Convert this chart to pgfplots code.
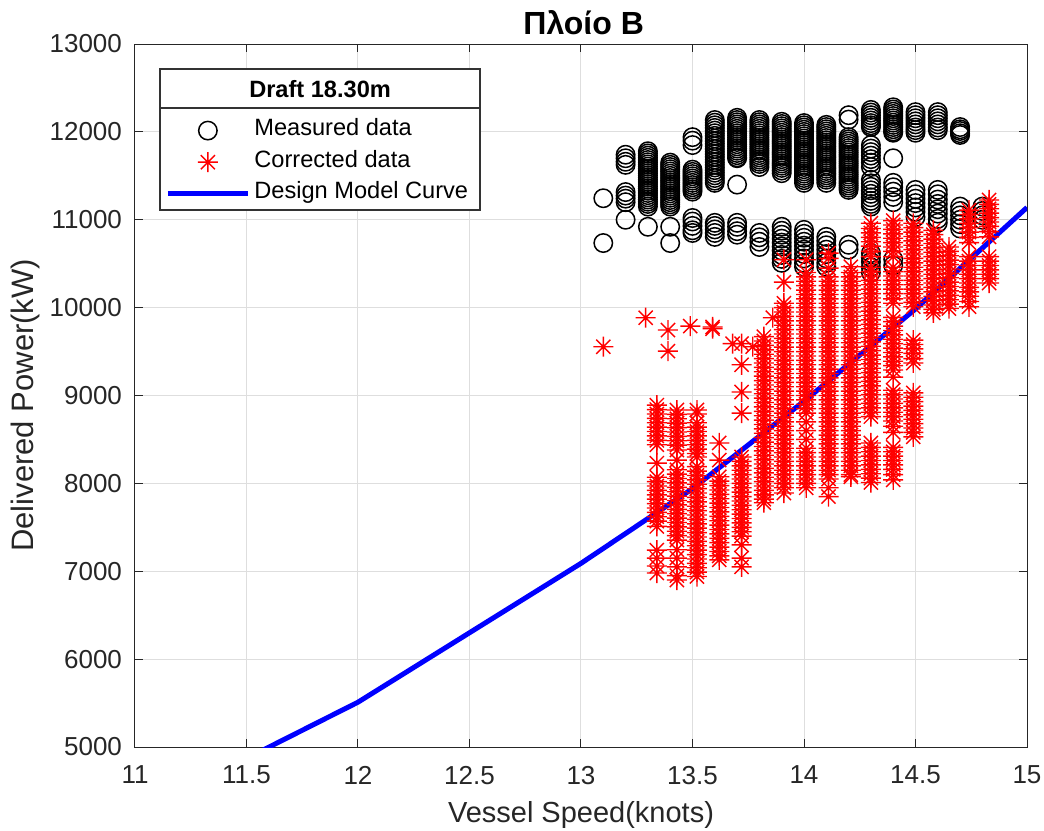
\documentclass[border=0pt]{standalone}
\usepackage{pgfplots}
\pgfplotsset{compat=1.18}
\usepackage{fontspec}
\setmainfont{Liberation Sans}

% MATLAB-style asterisk: + and x
\pgfdeclareplotmark{mstar}{%
  \pgfpathmoveto{\pgfpoint{-\pgfplotmarksize}{0pt}}\pgfpathlineto{\pgfpoint{\pgfplotmarksize}{0pt}}%
  \pgfpathmoveto{\pgfpoint{0pt}{-\pgfplotmarksize}}\pgfpathlineto{\pgfpoint{0pt}{\pgfplotmarksize}}%
  \pgfpathmoveto{\pgfpoint{-0.707\pgfplotmarksize}{-0.707\pgfplotmarksize}}\pgfpathlineto{\pgfpoint{0.707\pgfplotmarksize}{0.707\pgfplotmarksize}}%
  \pgfpathmoveto{\pgfpoint{-0.707\pgfplotmarksize}{0.707\pgfplotmarksize}}\pgfpathlineto{\pgfpoint{0.707\pgfplotmarksize}{-0.707\pgfplotmarksize}}%
  \pgfusepathqstroke}

\begin{document}
\begin{tikzpicture}
\useasboundingbox (-67.5pt,-41.5pt) rectangle (454.5pt,373.5pt);
\begin{axis}[
  at={(0,0)}, anchor=south west,
  scale only axis, width=446pt, height=351.5pt,
  xmin=11, xmax=15, ymin=5000, ymax=13000,
  xtick={11,11.5,12,12.5,13,13.5,14,14.5,15},
  ytick={5000,6000,7000,8000,9000,10000,11000,12000,13000},
  scaled ticks=false,
  /pgf/number format/1000 sep={},
  /pgf/number format/assume math mode=true,
  ticklabel style={font=\fontsize{13}{15}\selectfont, text=black!85},
  xticklabel style={yshift=-6pt},
  yticklabel style={xshift=-3pt},
  tick align=inside, major tick length=4pt,
  tick style={black!85, line width=0.5pt},
  grid=major, grid style={black!13, line width=0.5pt},
  axis line style={black!85, line width=0.5pt},
  xlabel={Vessel Speed(knots)}, ylabel={Delivered Power(kW)},
  every axis x label/.style={at={(axis description cs:0.5,-0.097)}, anchor=center,
    font=\fontsize{14.5}{17}\selectfont, text=black!85},
  every axis y label/.style={at={(axis description cs:-0.123,0.486)}, anchor=center, rotate=90,
    font=\fontsize{15.5}{18}\selectfont, text=black!85},
  title={\textbf{Πλοίο Β}},
  every axis title/.style={at={(axis description cs:0.503,1.031)}, anchor=center, font=\fontsize{16}{19}\selectfont},
  legend image code/.code={\draw[mark repeat=2,mark phase=2,#1] plot coordinates {(0pt,0pt)(20pt,0pt)(40pt,0pt)};},
  legend style={at={(axis description cs:0.028,0.909)}, anchor=north west, draw=none, fill=none,
    font=\fontsize{11.8}{14}\selectfont, inner xsep=2.5pt, inner ysep=4.7pt, row sep=3pt,
    nodes={inner ysep=1.4pt, text height=0.75em, text depth=0.25em}},
  legend cell align=left,
]
% legend frame with title row
\draw[draw=black!80, fill=white, line width=0.6pt] (axis cs:11.112,12716) rectangle (axis cs:12.547,11111);
\draw[draw=black!80, line width=0.6pt] (axis cs:11.112,12272) -- (axis cs:12.547,12272);
\node[font=\fontsize{11.8}{14}\selectfont\bfseries] at (axis cs:11.83,12490) {Draft 18.30m};

\addplot[only marks, mark=o, mark size=4.6pt, black, mark options={line width=0.75pt}] coordinates {
(13.1,11245)(13.1,10735)
(13.2,11740)(13.2,11700)(13.2,11660)(13.2,11625)(13.2,11315)(13.2,11275)(13.2,11240)(13.2,11200)(13.2,11000)
(13.3,11780)(13.3,11755)(13.3,11730)(13.3,11705)(13.3,11680)(13.3,11655)(13.3,11630)(13.3,11605)(13.3,11580)(13.3,11555)(13.3,11530)(13.3,11505)(13.3,11480)
(13.3,11455)(13.3,11430)(13.3,11405)(13.3,11380)(13.3,11355)(13.3,11330)(13.3,11305)(13.3,11280)(13.3,11255)(13.3,11230)(13.3,11205)(13.3,11180)(13.3,11150)(13.3,10920)
(13.4,11650)(13.4,11625)(13.4,11600)(13.4,11575)(13.4,11550)(13.4,11525)(13.4,11500)(13.4,11475)(13.4,11450)(13.4,11425)(13.4,11400)(13.4,11375)(13.4,11350)
(13.4,11325)(13.4,11300)(13.4,11275)(13.4,11250)(13.4,11225)(13.4,11200)(13.4,11175)(13.4,11150)(13.4,10920)(13.4,10735)
(13.5,11940)(13.5,11900)(13.5,11850)(13.5,11570)(13.5,11545)(13.5,11520)(13.5,11495)(13.5,11470)(13.5,11445)(13.5,11420)(13.5,11395)(13.5,11370)(13.5,11345)(13.5,11320)
(13.5,11020)(13.5,10980)(13.5,10930)(13.5,10880)(13.5,10850)
(13.6,12135)(13.6,12105)(13.6,12075)(13.6,12045)(13.6,12015)(13.6,11985)(13.6,11955)(13.6,11925)(13.6,11895)(13.6,11865)(13.6,11835)(13.6,11805)(13.6,11775)
(13.6,11745)(13.6,11715)(13.6,11685)(13.6,11655)(13.6,11625)(13.6,11595)(13.6,11565)(13.6,11535)(13.6,11505)(13.6,11475)(13.6,11445)(13.6,11420)
(13.6,10965)(13.6,10930)(13.6,10890)(13.6,10850)(13.6,10805)
(13.7,12160)(13.7,12135)(13.7,12110)(13.7,12085)(13.7,12060)(13.7,12035)(13.7,12010)(13.7,11985)(13.7,11960)(13.7,11935)(13.7,11910)(13.7,11885)(13.7,11860)
(13.7,11835)(13.7,11810)(13.7,11785)(13.7,11760)(13.7,11735)(13.7,11710)(13.7,11700)(13.7,11400)(13.7,10965)(13.7,10920)(13.7,10870)(13.7,10830)
(13.8,12135)(13.8,12110)(13.8,12085)(13.8,12060)(13.8,12035)(13.8,12010)(13.8,11985)(13.8,11960)(13.8,11935)(13.8,11910)(13.8,11885)(13.8,11860)(13.8,11835)
(13.8,11810)(13.8,11785)(13.8,11760)(13.8,11735)(13.8,11710)(13.8,11685)(13.8,11660)(13.8,11635)(13.8,11600)(13.8,10850)(13.8,10800)(13.8,10750)(13.8,10690)
(13.9,12115)(13.9,12090)(13.9,12065)(13.9,12040)(13.9,12015)(13.9,11990)(13.9,11965)(13.9,11940)(13.9,11915)(13.9,11890)(13.9,11865)(13.9,11840)(13.9,11815)
(13.9,11790)(13.9,11765)(13.9,11740)(13.9,11715)(13.9,11690)(13.9,11665)(13.9,11640)(13.9,11615)(13.9,11590)(13.9,11560)(13.9,11530)
(13.9,10920)(13.9,10875)(13.9,10830)(13.9,10785)(13.9,10740)(13.9,10695)(13.9,10650)(13.9,10600)(13.9,10555)(13.9,10510)
(14.0,12100)(14.0,12075)(14.0,12050)(14.0,12025)(14.0,12000)(14.0,11975)(14.0,11950)(14.0,11925)(14.0,11900)(14.0,11875)(14.0,11850)(14.0,11825)(14.0,11800)(14.0,11775)
(14.0,11750)(14.0,11725)(14.0,11700)(14.0,11675)(14.0,11650)(14.0,11625)(14.0,11600)(14.0,11575)(14.0,11550)(14.0,11525)(14.0,11500)(14.0,11475)(14.0,11450)(14.0,11420)
(14.0,10885)(14.0,10840)(14.0,10795)(14.0,10750)(14.0,10705)(14.0,10660)(14.0,10610)(14.0,10560)(14.0,10510)(14.0,10465)
(14.1,12080)(14.1,12055)(14.1,12030)(14.1,12005)(14.1,11980)(14.1,11955)(14.1,11930)(14.1,11905)(14.1,11880)(14.1,11855)(14.1,11830)(14.1,11805)(14.1,11780)(14.1,11755)
(14.1,11730)(14.1,11705)(14.1,11680)(14.1,11655)(14.1,11630)(14.1,11605)(14.1,11580)(14.1,11555)(14.1,11530)(14.1,11505)(14.1,11480)(14.1,11455)(14.1,11420)
(14.1,10805)(14.1,10760)(14.1,10710)(14.1,10660)(14.1,10610)(14.1,10560)(14.1,10510)(14.1,10465)
(14.2,12190)(14.2,12140)(14.2,11940)(14.2,11915)(14.2,11890)(14.2,11865)(14.2,11840)(14.2,11815)(14.2,11790)(14.2,11765)(14.2,11740)(14.2,11715)(14.2,11690)
(14.2,11665)(14.2,11640)(14.2,11615)(14.2,11590)(14.2,11565)(14.2,11540)(14.2,11515)(14.2,11490)(14.2,11465)(14.2,11440)(14.2,11415)(14.2,11390)(14.2,11365)(14.2,11340)
(14.2,10715)(14.2,10660)
(14.3,12250)(14.3,12220)(14.3,12190)(14.3,12160)(14.3,12130)(14.3,12100)(14.3,12075)(14.3,12055)(14.3,11850)(14.3,11810)(14.3,11770)(14.3,11730)(14.3,11690)(14.3,11650)(14.3,11600)
(14.3,11455)(14.3,11415)(14.3,11375)(14.3,11335)(14.3,11295)(14.3,11255)(14.3,11215)(14.3,11180)(14.3,11150)(14.3,10620)(14.3,10570)(14.3,10520)(14.3,10460)(14.3,10400)
(14.4,12280)(14.4,12255)(14.4,12230)(14.4,12205)(14.4,12180)(14.4,12155)(14.4,12130)(14.4,12105)(14.4,12080)(14.4,12055)(14.4,12030)(14.4,12005)(14.4,11990)
(14.4,11700)(14.4,11420)(14.4,11370)(14.4,11320)(14.4,11260)(14.4,11200)(14.4,10550)(14.4,10480)
(14.5,12225)(14.5,12190)(14.5,12155)(14.5,12120)(14.5,12085)(14.5,12050)(14.5,12020)(14.5,11990)(14.5,11340)(14.5,11290)(14.5,11240)(14.5,11190)(14.5,11140)(14.5,11090)(14.5,11030)
(14.6,12225)(14.6,12190)(14.6,12155)(14.6,12120)(14.6,12085)(14.6,12050)(14.6,12020)(14.6,11340)(14.6,11290)(14.6,11230)(14.6,11180)(14.6,11120)(14.6,11070)(14.6,11010)(14.6,10965)
(14.7,12055)(14.7,12030)(14.7,12010)(14.7,11985)(14.7,11965)(14.7,11150)(14.7,11100)(14.7,11050)(14.7,11000)(14.7,10950)(14.7,10900)
(14.8,11150)(14.8,11100)(14.8,11050)(14.8,11000)
};
\addlegendentry{Measured data}

\addplot[only marks, mark=mstar, mark size=5pt, red, mark options={line width=0.7pt}] coordinates {
(13.1,9555)(13.29,9885)(13.39,9745)(13.39,9505)(13.49,9790)(13.59,9780)(13.59,9760)(13.68,9590)(13.77,9555)(13.86,9885)
(13.34,8890)(13.34,8840)(13.34,8790)(13.34,8740)(13.34,8690)(13.34,8640)(13.34,8590)(13.34,8540)(13.34,8490)(13.34,8440)(13.34,8230)
(13.34,8070)(13.34,8020)(13.34,7970)(13.34,7920)(13.34,7870)(13.34,7820)(13.34,7770)(13.34,7720)(13.34,7670)(13.34,7620)(13.34,7570)(13.34,7510)
(13.34,7240)(13.34,7150)(13.34,7060)(13.34,6980)
(13.43,8835)(13.43,8785)(13.43,8735)(13.43,8685)(13.43,8635)(13.43,8585)(13.43,8535)(13.43,8485)(13.43,8435)(13.43,8380)(13.43,8265)
(13.43,8155)(13.43,8105)(13.43,8055)(13.43,8005)(13.43,7955)(13.43,7905)(13.43,7855)(13.43,7805)(13.43,7755)(13.43,7705)(13.43,7655)(13.43,7605)(13.43,7555)(13.43,7505)(13.43,7455)(13.43,7405)(13.43,7355)
(13.43,7245)(13.43,7150)(13.43,7050)(13.43,6950)(13.43,6900)
(13.52,8835)(13.52,8790)(13.52,8690)(13.52,8640)(13.52,8590)(13.52,8540)(13.52,8490)(13.52,8440)(13.52,8390)(13.52,8340)(13.52,8300)
(13.52,8190)(13.52,8140)(13.52,8090)(13.52,8040)(13.52,7990)(13.52,7940)(13.52,7890)(13.52,7840)(13.52,7790)(13.52,7740)(13.52,7690)(13.52,7640)(13.52,7590)
(13.52,7540)(13.52,7490)(13.52,7440)(13.52,7390)(13.52,7340)(13.52,7290)(13.52,7240)(13.52,7190)(13.52,7140)(13.52,7090)(13.52,7040)(13.52,6990)(13.52,6940)
(13.62,8460)(13.62,8265)(13.62,8075)(13.62,8025)(13.62,7975)(13.62,7925)(13.62,7875)(13.62,7825)(13.62,7775)(13.62,7725)(13.62,7675)(13.62,7625)
(13.62,7575)(13.62,7525)(13.62,7475)(13.62,7425)(13.62,7375)(13.62,7325)(13.62,7275)(13.62,7225)(13.62,7175)(13.62,7130)
(13.72,9590)(13.72,9350)(13.72,9040)(13.72,8800)(13.72,8300)(13.72,8250)(13.72,8200)(13.72,8150)(13.72,8100)(13.72,8050)(13.72,8000)(13.72,7950)(13.72,7900)
(13.72,7850)(13.72,7800)(13.72,7750)(13.72,7700)(13.72,7650)(13.72,7600)(13.72,7550)(13.72,7500)(13.72,7450)(13.72,7400)(13.72,7300)(13.72,7150)(13.72,7050)
(13.82,9670)(13.82,9620)(13.82,9570)(13.82,9520)(13.82,9470)(13.82,9420)(13.82,9370)(13.82,9320)(13.82,9270)(13.82,9220)(13.82,9170)(13.82,9120)(13.82,9070)
(13.82,9020)(13.82,8970)(13.82,8920)(13.82,8870)(13.82,8820)(13.82,8770)(13.82,8720)(13.82,8670)(13.82,8620)(13.82,8570)(13.82,8520)(13.82,8470)(13.82,8420)
(13.82,8370)(13.82,8320)(13.82,8270)(13.82,8220)(13.82,8170)(13.82,8120)(13.82,8070)(13.82,8020)(13.82,7970)(13.82,7920)(13.82,7870)(13.82,7820)(13.82,7780)
(13.91,10545)(13.91,10290)(13.91,10050)(13.91,10000)(13.91,9950)(13.91,9900)(13.91,9850)(13.91,9800)(13.91,9750)(13.91,9700)(13.91,9650)(13.91,9600)(13.91,9550)
(13.91,9500)(13.91,9450)(13.91,9400)(13.91,9350)(13.91,9300)(13.91,9250)(13.91,9200)(13.91,9150)(13.91,9100)(13.91,9050)(13.91,9000)(13.91,8950)(13.91,8900)
(13.91,8850)(13.91,8800)(13.91,8750)(13.91,8700)(13.91,8650)(13.91,8600)(13.91,8550)(13.91,8500)(13.91,8450)(13.91,8400)(13.91,8350)(13.91,8300)(13.91,8250)
(13.91,8200)(13.91,8150)(13.91,8100)(13.91,8050)(13.91,8000)(13.91,7950)(13.91,7890)
(14.01,10545)(14.01,10400)(14.01,10350)(14.01,10300)(14.01,10250)(14.01,10200)(14.01,10150)(14.01,10100)(14.01,10050)(14.01,10000)(14.01,9950)(14.01,9900)
(14.01,9850)(14.01,9800)(14.01,9750)(14.01,9700)(14.01,9650)(14.01,9600)(14.01,9550)(14.01,9500)(14.01,9450)(14.01,9400)(14.01,9350)(14.01,9300)(14.01,9250)
(14.01,9200)(14.01,9150)(14.01,9100)(14.01,9050)(14.01,9000)(14.01,8950)(14.01,8900)(14.01,8850)(14.01,8800)(14.01,8700)(14.01,8600)(14.01,8500)(14.01,8400)
(14.01,8350)(14.01,8300)(14.01,8250)(14.01,8200)(14.01,8150)(14.01,8100)(14.01,8050)(14.01,8000)(14.01,7950)
(14.11,10620)(14.11,10560)(14.11,10450)(14.11,10350)(14.11,10300)(14.11,10250)(14.11,10200)(14.11,10150)(14.11,10100)(14.11,10050)(14.11,10000)(14.11,9950)
(14.11,9900)(14.11,9850)(14.11,9800)(14.11,9750)(14.11,9700)(14.11,9650)(14.11,9600)(14.11,9550)(14.11,9500)(14.11,9450)(14.11,9400)(14.11,9350)(14.11,9300)
(14.11,9250)(14.11,9200)(14.11,9150)(14.11,9100)(14.11,9050)(14.11,9000)(14.11,8950)(14.11,8900)(14.11,8850)(14.11,8800)(14.11,8750)(14.11,8700)(14.11,8650)
(14.11,8600)(14.11,8550)(14.11,8500)(14.11,8450)(14.11,8400)(14.11,8350)(14.11,8300)(14.11,8250)(14.11,8200)(14.11,8150)(14.11,8100)(14.11,8050)(14.11,7950)(14.11,7850)
(14.21,10465)(14.21,10400)(14.21,10350)(14.21,10300)(14.21,10250)(14.21,10200)(14.21,10150)(14.21,10100)(14.21,10050)(14.21,10000)(14.21,9950)(14.21,9900)
(14.21,9850)(14.21,9800)(14.21,9750)(14.21,9700)(14.21,9650)(14.21,9600)(14.21,9550)(14.21,9500)(14.21,9450)(14.21,9400)(14.21,9350)(14.21,9300)(14.21,9250)
(14.21,9200)(14.21,9150)(14.21,9100)(14.21,9050)(14.21,9000)(14.21,8950)(14.21,8900)(14.21,8850)(14.21,8800)(14.21,8750)(14.21,8700)(14.21,8650)(14.21,8600)
(14.21,8550)(14.21,8500)(14.21,8450)(14.21,8400)(14.21,8350)(14.21,8300)(14.21,8250)(14.21,8200)(14.21,8150)(14.21,8100)(14.21,8075)
(14.30,10960)(14.30,10900)(14.30,10850)(14.30,10800)(14.30,10750)(14.30,10700)(14.30,10640)(14.30,10580)
(14.30,10460)(14.30,10410)(14.30,10360)(14.30,10310)(14.30,10260)(14.30,10210)(14.30,10160)(14.30,10110)(14.30,10060)(14.30,10010)(14.30,9960)(14.30,9910)
(14.30,9860)(14.30,9810)(14.30,9760)(14.30,9710)(14.30,9660)(14.30,9610)(14.30,9560)(14.30,9510)(14.30,9460)(14.30,9410)(14.30,9360)(14.30,9310)(14.30,9260)
(14.30,9210)(14.30,9160)(14.30,9110)(14.30,9060)(14.30,9010)(14.30,8960)(14.30,8910)(14.30,8860)(14.30,8810)(14.30,8760)
(14.30,8460)(14.30,8410)(14.30,8360)(14.30,8310)(14.30,8260)(14.30,8210)(14.30,8160)(14.30,8110)(14.30,8060)(14.30,8010)
(14.40,10990)(14.40,10940)(14.40,10890)(14.40,10840)(14.40,10790)(14.40,10740)(14.40,10690)(14.40,10640)(14.40,10580)
(14.40,10460)(14.40,10410)(14.40,10360)(14.40,10310)(14.40,10260)(14.40,10210)(14.40,10160)(14.40,10100)(14.40,10050)
(14.40,9890)(14.40,9840)(14.40,9790)(14.40,9740)(14.40,9690)(14.40,9640)(14.40,9590)(14.40,9540)(14.40,9490)(14.40,9440)(14.40,9390)(14.40,9340)(14.40,9290)(14.40,9210)
(14.40,9060)(14.40,9010)(14.40,8960)(14.40,8910)(14.40,8860)(14.40,8810)(14.40,8760)(14.40,8710)(14.40,8650)(14.40,8580)
(14.40,8410)(14.40,8360)(14.40,8310)(14.40,8260)(14.40,8210)(14.40,8160)(14.40,8100)(14.40,8040)
(14.49,10960)(14.49,10910)(14.49,10860)(14.49,10810)(14.49,10760)(14.49,10710)(14.49,10660)(14.49,10610)(14.49,10560)(14.49,10510)
(14.49,10460)(14.49,10410)(14.49,10360)(14.49,10310)(14.49,10260)(14.49,10210)(14.49,10160)(14.49,10110)(14.49,10060)(14.49,10010)
(14.49,9630)(14.49,9580)(14.49,9530)(14.49,9480)(14.49,9420)(14.49,9370)
(14.49,9030)(14.49,8980)(14.49,8930)(14.49,8880)(14.49,8830)(14.49,8780)(14.49,8730)(14.49,8680)(14.49,8630)(14.49,8580)(14.49,8530)
(14.58,10880)(14.58,10830)(14.58,10780)(14.58,10730)(14.58,10680)(14.58,10630)(14.58,10580)(14.58,10530)(14.58,10480)(14.58,10430)
(14.58,10380)(14.58,10330)(14.58,10280)(14.58,10230)(14.58,10180)(14.58,10130)(14.58,10080)(14.58,10030)(14.58,9980)(14.58,9940)
(14.65,10690)(14.65,10640)(14.65,10590)(14.65,10540)(14.65,10490)(14.65,10440)(14.65,10390)(14.65,10340)(14.65,10290)(14.65,10240)
(14.65,10190)(14.65,10140)(14.65,10090)(14.65,10040)(14.65,9990)
(14.74,11110)(14.74,11060)(14.74,11010)(14.74,10960)(14.74,10910)(14.74,10860)(14.74,10800)(14.74,10740)
(14.74,10580)(14.74,10530)(14.74,10480)(14.74,10430)(14.74,10380)(14.74,10330)(14.74,10280)(14.74,10230)(14.74,10180)(14.74,10130)(14.74,10070)(14.74,10010)
(14.83,11225)(14.83,11175)(14.83,11125)(14.83,11075)(14.83,11025)(14.83,10975)(14.83,10925)(14.83,10865)(14.83,10805)
(14.83,10580)(14.83,10530)(14.83,10480)(14.83,10430)(14.83,10380)(14.83,10330)(14.83,10280)
};
\addlegendentry{Corrected data}

\addplot[blue, line width=2.5pt] coordinates {
(11.5,4870)(12,5510)(12.5,6300)(13,7090)(13.5,7940)(14,8935)(14.5,9985)(15,11140)
};
\addlegendentry{Design Model Curve}
\end{axis}
\end{tikzpicture}
\end{document}
